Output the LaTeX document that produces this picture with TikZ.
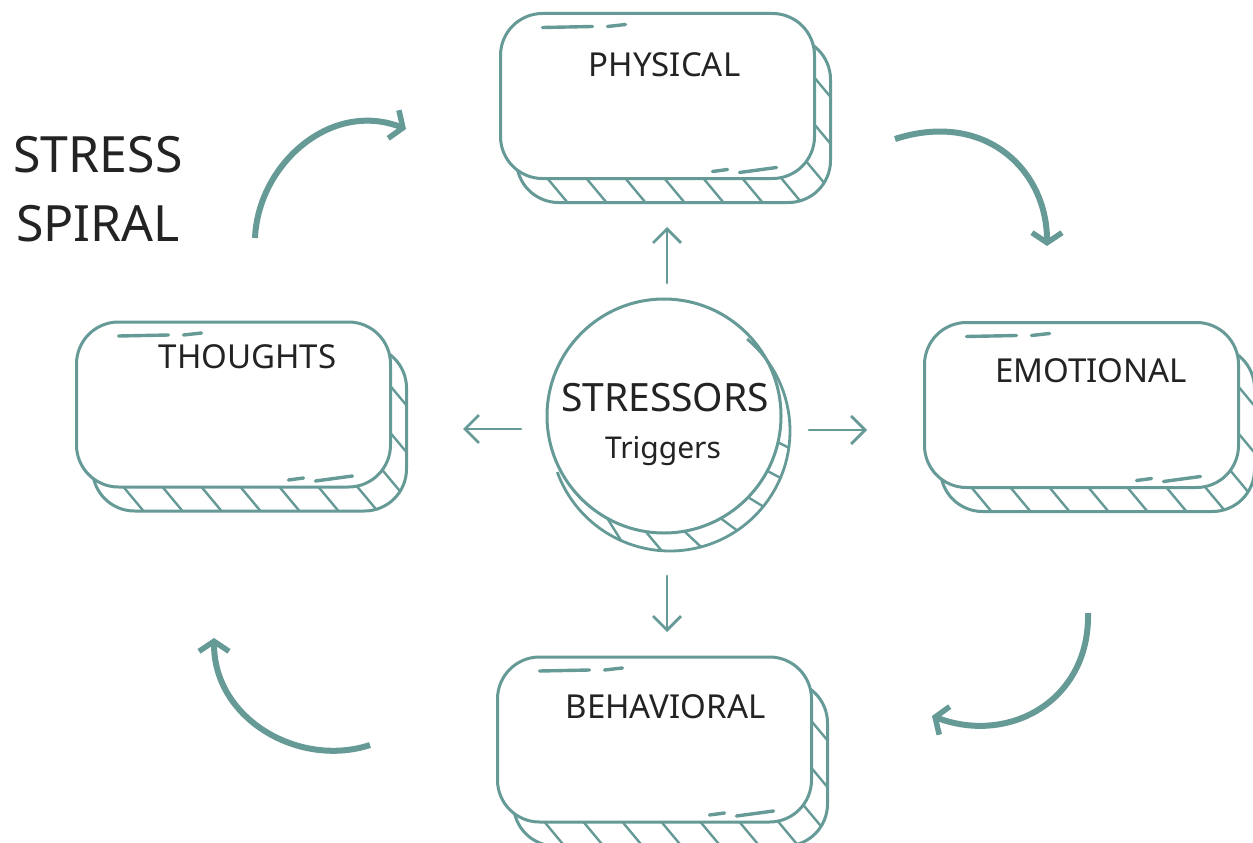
\documentclass[tikz,border=0pt]{standalone}
\usepackage{fontspec}
\setmainfont{Noto Sans}
\usetikzlibrary{arrows.meta}
\definecolor{tealline}{HTML}{659A97}
\definecolor{ink}{HTML}{232323}
\tikzset{
  backbox/.style={draw=tealline, line width=3pt, fill=white, rounded corners=42pt},
  frontbox/.style={draw=tealline, line width=3pt, fill=white, rounded corners=42pt,
    minimum width=314pt, minimum height=165pt, inner sep=0pt},
  hatchline/.style={draw=tealline, line width=2.4pt},
  dashmark/.style={draw=tealline, line width=3.4pt, line cap=round},
  boxtext/.style={text=ink, inner sep=0pt, anchor=base, font=\fontsize{33}{40}\selectfont},
  titletext/.style={text=ink, inner sep=0pt, anchor=base, font=\fontsize{50}{60}\selectfont},
  smallarrow/.style={draw=tealline, line width=2.8pt, line cap=round,
    -{Straight Barb[length=14pt,width=28pt,line width=2.8pt]}},
  bigarrow/.style={draw=tealline, line width=6pt,
    -{Straight Barb[length=10pt,width=30pt,line width=5.5pt]}},
}
\newcommand\sketchbox[3]{%
\begin{scope}[shift={(#2,#3)}]
  \path[backbox] (-141,-58.5) rectangle (173,106.5);
  \begin{scope}
    \clip[rounded corners=42pt] (-141,-58.5) rectangle (173,106.5);
    \foreach \c in {-110,-71,...,241}
      \draw[hatchline] (\c-120,-61.5) -- (\c+30,118.5);
  \end{scope}
  \node[frontbox] (#1) at (0,0) {};
  \draw[dashmark] (-115,-68.5) -- (-65,-69.5) (-50,-69.5) -- (-32,-71.5)
                  (55,75.5) -- (70,73.5) (82,76.5) -- (119,71.5);
\end{scope}}
\begin{document}
\begin{tikzpicture}[x=1pt,y=-1pt]
\useasboundingbox[fill=white] (0,0) rectangle (1253,843);

% boxes
\sketchbox{physical}{657.5}{96}
\sketchbox{thoughts}{233.5}{404.5}
\sketchbox{emotional}{1081.5}{405}
\sketchbox{behavioral}{654.5}{739.5}

% box labels
\node[boxtext] (lphys) at (664.5,77) {PHYSICAL};
\node[boxtext] (lthou) at (247.5,368) {THOUGHTS};
\node[boxtext] (lemot) at (1091,382) {EMOTIONAL};
\node[boxtext] (lbeha) at (665.5,718) {BEHAVIORAL};

% title
\node[titletext] (title1) at (98,172) {STRESS};
\node[titletext] (title2) at (98,241) {SPIRAL};

% central circle
\node[circle, draw=tealline, line width=3pt, fill=white, minimum size=234pt, inner sep=0pt] (stressors) at (664,416) {};
\draw[tealline, line width=2.8pt] plot[smooth, domain=-50:160, samples=70] ({670+120*cos(\x)},{431+120*sin(\x)});
\foreach \a in {8,23,39,56,75,94,114}
  \draw[hatchline] ({664+117*cos(\a+5)},{416+117*sin(\a+5)}) -- ({670+120*cos(\a)},{431+120*sin(\a)});
\node[text=ink, inner sep=0pt, anchor=base, font=\fontsize{39}{46}\selectfont] (lstress) at (665,411) {STRESSORS};
\node[text=ink, inner sep=0pt, anchor=base, font=\fontsize{30}{36}\selectfont] (ltrig) at (663,458) {Triggers};

% straight arrows
\coordinate (upS) at (667,283); \coordinate (upE) at (667,227);
\coordinate (lfS) at (521,429); \coordinate (lfE) at (463,429);
\coordinate (rtS) at (809,430); \coordinate (rtE) at (867,430);
\coordinate (dnS) at (667,576); \coordinate (dnE) at (667,632);
\draw[smallarrow] (upS) -- (upE);
\draw[smallarrow] (lfS) -- (lfE);
\draw[smallarrow] (rtS) -- (rtE);
\draw[smallarrow] (dnS) -- (dnE);

% curved arrows
\coordinate (c1S) at (255,238); \coordinate (c1E) at (406,129);
\coordinate (c2S) at (895,139); \coordinate (c2E) at (1047,246);
\coordinate (c3S) at (1088,613); \coordinate (c3E) at (932,716);
\coordinate (c4S) at (370,745); \coordinate (c4E) at (214,638);
\draw[bigarrow] (c1S) .. controls (258,165) and (330,100) .. (c1E);
\draw[bigarrow] (c2S) .. controls (985,110) and (1047,170) .. (c2E);
\draw[bigarrow] (c3S) .. controls (1090,700) and (1010,745) .. (c3E);
\draw[bigarrow] (c4S) .. controls (300,768) and (214,720) .. (c4E);
\end{tikzpicture}
\end{document}
